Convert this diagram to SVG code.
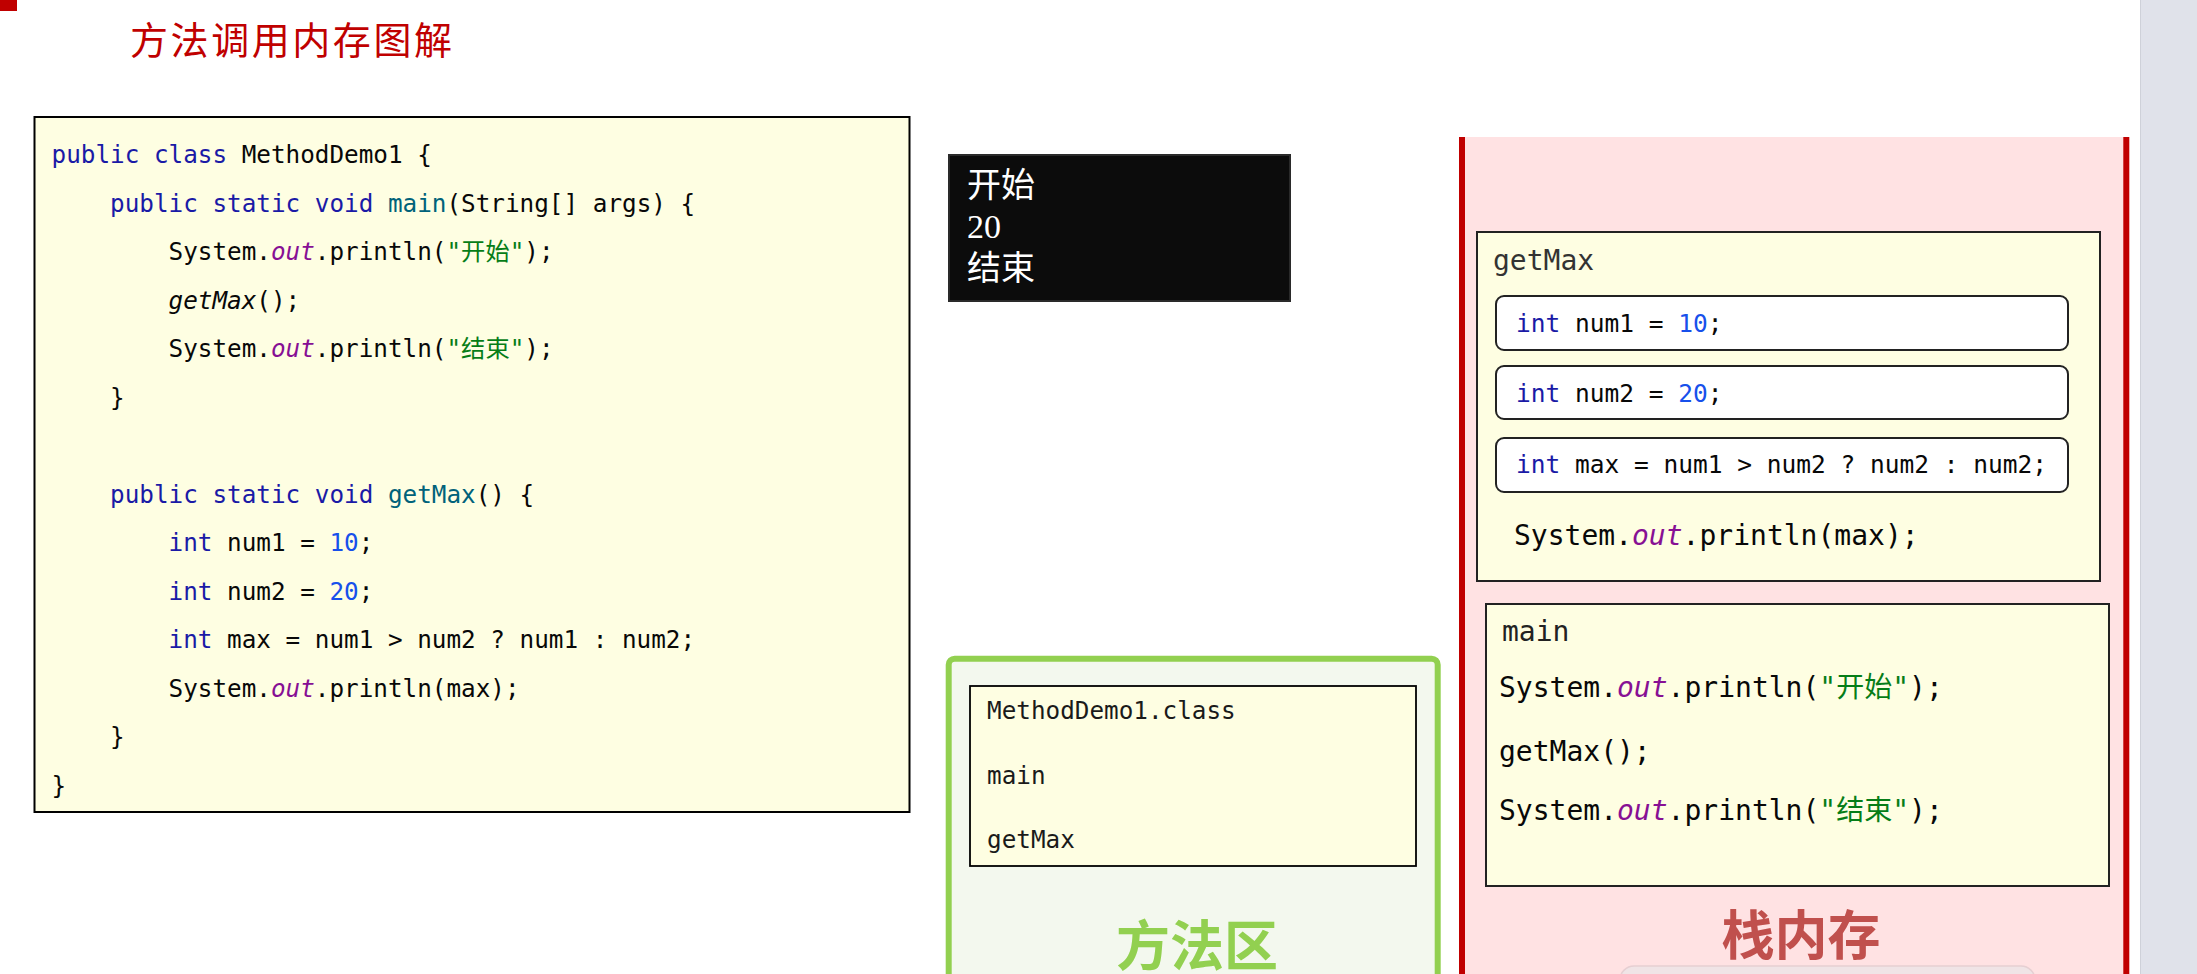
<svg xmlns="http://www.w3.org/2000/svg" width="2197" height="974" viewBox="0 0 2197 974">
<style>
.code{font-family:"DejaVu Sans Mono","Noto Sans CJK SC",monospace;fill:#080808}
.kw{fill:#1a1aa6}
.fn{fill:#00627a}
.out{fill:#871094;font-style:italic}
.str{fill:#067d17}
.num{fill:#1750eb}
.it{font-style:italic}
.frame{fill:#fefee2;stroke:#222;stroke-width:2}
.slot{fill:#fff;stroke:#222;stroke-width:2}
.cjk{font-family:"Noto Sans CJK SC",sans-serif}
</style>
<rect width="2197" height="974" fill="#fff"/>
<g id="page-mark"><rect x="0" y="0" width="17" height="11" fill="#c00000"/></g>
<g id="title"><text x="130" y="54" class="cjk" font-size="38" fill="#c00000" textLength="322" lengthAdjust="spacing">方法调用内存图解</text></g>

<g id="code-box">
<rect x="34.5" y="117" width="875" height="695" fill="#fefee2" stroke="#000" stroke-width="2"/>
<g class="code" font-size="24.3">
<text x="51.5" y="163"><tspan class="kw">public class</tspan> MethodDemo1 {</text>
<text x="110" y="212"><tspan class="kw">public static void</tspan> <tspan class="fn">main</tspan>(String[] args) {</text>
<text x="168.5" y="260">System.<tspan class="out">out</tspan>.println(<tspan class="str">"开始"</tspan>);</text>
<text x="168.5" y="309"><tspan class="it">getMax</tspan>();</text>
<text x="168.5" y="357">System.<tspan class="out">out</tspan>.println(<tspan class="str">"结束"</tspan>);</text>
<text x="110" y="406">}</text>
<text x="110" y="503"><tspan class="kw">public static void</tspan> <tspan class="fn">getMax</tspan>() {</text>
<text x="168.5" y="551"><tspan class="kw">int</tspan> num1 = <tspan class="num">10</tspan>;</text>
<text x="168.5" y="600"><tspan class="kw">int</tspan> num2 = <tspan class="num">20</tspan>;</text>
<text x="168.5" y="648"><tspan class="kw">int</tspan> max = num1 &gt; num2 ? num1 : num2;</text>
<text x="168.5" y="697">System.<tspan class="out">out</tspan>.println(max);</text>
<text x="110" y="745">}</text>
<text x="51.5" y="794">}</text>
</g>
</g>

<g id="console">
<rect x="949" y="155" width="341" height="146" fill="#0c0c0c" stroke="#2a2a2a" stroke-width="2"/>
<g font-family="Liberation Serif,'Noto Sans CJK SC',serif" font-size="34" fill="#fff">
<text x="967" y="197">开始</text>
<text x="967" y="238">20</text>
<text x="967" y="280">结束</text>
</g>
</g>

<g id="method-area">
<rect x="948.7" y="658.7" width="489" height="340" rx="6" fill="#f3f8ee" stroke="#92d050" stroke-width="6"/>
<rect x="970" y="686" width="446" height="180" fill="#fefee2" stroke="#000" stroke-width="1.8"/>
<g class="code" font-size="24.3" style="fill:#1a1a1a">
<text x="987" y="719">MethodDemo1.class</text>
<text x="987" y="784">main</text>
<text x="987" y="848">getMax</text>
</g>
<text x="1197" y="966" text-anchor="middle" class="cjk" font-size="54" font-weight="bold" fill="#92d050">方法区</text>
</g>

<g id="stack">
<rect x="1462" y="137" width="664" height="840" fill="#ffe2e3"/>
<line x1="1462" y1="137" x2="1462" y2="974" stroke="#c00000" stroke-width="6"/>
<line x1="2126.3" y1="137" x2="2126.3" y2="974" stroke="#c00000" stroke-width="6"/>
<text x="1801" y="955" text-anchor="middle" class="cjk" font-size="53" font-weight="bold" fill="#c0504d">栈内存</text>
<rect x="1620" y="966" width="415" height="40" rx="14" fill="#f0e4e6" stroke="#e6cfd2" stroke-width="1.5"/>
</g>

<g id="frame-getMax">
<rect class="frame" x="1477" y="232" width="623" height="349"/>
<text x="1493" y="270" class="code" font-size="28" style="fill:#333">getMax</text>
<rect class="slot" x="1496" y="296" width="572" height="54" rx="8"/>
<rect class="slot" x="1496" y="366" width="572" height="53" rx="8"/>
<rect class="slot" x="1496" y="438" width="572" height="54" rx="8"/>
<g class="code" font-size="24.5">
<text x="1516" y="332"><tspan class="kw">int</tspan> num1 = <tspan class="num">10</tspan>;</text>
<text x="1516" y="402"><tspan class="kw">int</tspan> num2 = <tspan class="num">20</tspan>;</text>
<text x="1516" y="473"><tspan class="kw">int</tspan> max = num1 &gt; num2 ? num2 : num2;</text>
</g>
<text x="1514" y="545" class="code" font-size="28">System.<tspan class="out">out</tspan>.println(max);</text>
</g>

<g id="frame-main">
<rect class="frame" x="1486" y="604" width="623" height="282"/>
<g class="code" font-size="28">
<text x="1502" y="641" style="fill:#222">main</text>
<text x="1499" y="697">System.<tspan class="out">out</tspan>.println(<tspan class="str">"开始"</tspan>);</text>
<text x="1499" y="761">getMax();</text>
<text x="1499" y="820">System.<tspan class="out">out</tspan>.println(<tspan class="str">"结束"</tspan>);</text>
</g>
</g>

<g id="side-strip">
<rect x="2140" y="0" width="57" height="974" fill="#e0e2ea"/>
<line x1="2140.5" y1="0" x2="2140.5" y2="974" stroke="#cfd1d9" stroke-width="1"/>
</g>

<g id="connectors"/>
</svg>
